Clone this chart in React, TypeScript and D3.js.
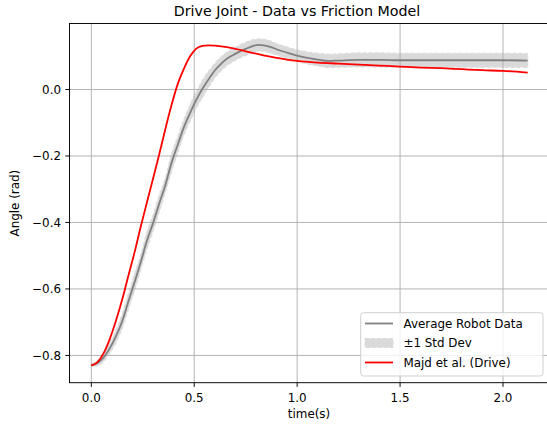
import React from "react";
import * as d3 from "d3";

// red model curve (Majd et al.)
const modelTime = [
  0.0, 0.03, 0.06, 0.09, 0.12, 0.15, 0.18, 0.21, 0.24, 0.27, 0.3, 0.33, 0.36,
  0.39, 0.42, 0.45, 0.48, 0.51, 0.54, 0.57, 0.6, 0.65, 0.7, 0.75, 0.8, 0.85,
  0.9, 0.95, 1.0, 1.1, 1.2, 1.3, 1.4, 1.5, 1.6, 1.7, 1.8, 1.9, 2.0, 2.12,
];
const modelAngle = [
  -0.83, -0.82, -0.793, -0.75, -0.695, -0.632, -0.56, -0.49, -0.413, -0.34,
  -0.268, -0.195, -0.118, -0.046, 0.017, 0.063, 0.1, 0.123, 0.131, 0.133,
  0.132, 0.128, 0.122, 0.115, 0.108, 0.101, 0.095, 0.09, 0.086, 0.081, 0.078,
  0.075, 0.072, 0.069, 0.066, 0.064, 0.061, 0.058, 0.056, 0.051,
];

// averaged robot data + std dev
const dataTime = [
  0.0, 0.03, 0.06, 0.09, 0.12, 0.15, 0.18, 0.21, 0.24, 0.27, 0.3, 0.33, 0.36,
  0.39, 0.42, 0.45, 0.48, 0.51, 0.54, 0.57, 0.6, 0.63, 0.66, 0.69, 0.72, 0.75,
  0.78, 0.81, 0.84, 0.87, 0.9, 0.95, 1.0, 1.05, 1.1, 1.15, 1.2, 1.3, 1.4, 1.5,
  1.6, 1.7, 1.8, 1.9, 2.0, 2.12,
];
const dataMean = [
  -0.83, -0.823, -0.806, -0.778, -0.742, -0.697, -0.638, -0.58, -0.52, -0.455,
  -0.402, -0.343, -0.287, -0.22, -0.166, -0.113, -0.07, -0.031, 0.002, 0.031,
  0.057, 0.077, 0.093, 0.104, 0.114, 0.122, 0.13, 0.134, 0.133, 0.128, 0.121,
  0.111, 0.102, 0.095, 0.09, 0.086, 0.087, 0.089, 0.089, 0.088, 0.088, 0.088,
  0.088, 0.088, 0.088, 0.087,
];
const dataStd = [
  0.004, 0.008, 0.012, 0.015, 0.019, 0.021, 0.023, 0.025, 0.022, 0.026, 0.024,
  0.025, 0.022, 0.026, 0.024, 0.023, 0.025, 0.024, 0.026, 0.024, 0.022, 0.021,
  0.02, 0.02, 0.019, 0.02, 0.019, 0.018, 0.018, 0.018, 0.017, 0.017, 0.017,
  0.018, 0.019, 0.02, 0.02, 0.021, 0.021, 0.021, 0.021, 0.021, 0.021, 0.021,
  0.021, 0.021,
];

const xTicks = [0, 0.5, 1.0, 1.5, 2.0];
const yTicks = [-0.8, -0.6, -0.4, -0.2, 0.0];

const width = 547;
const height = 429;
const font = "DejaVu Sans, sans-serif";

const App = () => {
  const left = 69.5;
  const right = 549.5;
  const top = 23.5;
  const bottom = 382.7;

  const x = d3.scaleLinear().domain([-0.106, 2.226]).range([left, right]);
  const y = d3.scaleLinear().domain([-0.882, 0.1985]).range([bottom, top]);

  const rows = dataTime.map((t, i) => ({ t, m: dataMean[i], s: dataStd[i] }));
  const model = modelTime.map((t, i) => ({ t, v: modelAngle[i] }));

  const band = d3
    .area<any>()
    .x((d) => x(d.t))
    .y0((d) => y(d.m - d.s))
    .y1((d) => y(d.m + d.s))
    .curve(d3.curveMonotoneX)(rows);

  const meanLine = d3
    .line<any>()
    .x((d) => x(d.t))
    .y((d) => y(d.m))
    .curve(d3.curveMonotoneX)(rows);

  const modelLine = d3
    .line<any>()
    .x((d) => x(d.t))
    .y((d) => y(d.v))
    .curve(d3.curveMonotoneX)(model);

  const fmt = (v) => (v < 0 ? "\u2212" : "") + Math.abs(v).toFixed(1);

  // legend
  const lx = 360.7;
  const ly = 312.7;
  const rowY = [323.5, 343, 362.5];

  return (
    <svg
      width={width}
      height={height}
      style={{ position: "absolute", left: 0, top: 0, background: "#fff" }}
      fontFamily={font}
    >
      <defs>
        <clipPath id="plot">
          <rect x={left} y={top} width={right - left} height={bottom - top} />
        </clipPath>
      </defs>

      <text x={297} y={16} textAnchor="middle" fontSize={14.25} fill="#000">
        Drive Joint - Data vs Friction Model
      </text>

      <g clipPath="url(#plot)">
        {/* std band */}
        <path
          d={band}
          fill="#d3d3d3"
          fillOpacity={0.85}
          stroke="#dcdcdc"
          strokeWidth={1.2}
          strokeDasharray="4 2"
        />

        {/* grid */}
        {xTicks.map((t) => (
          <line
            key={"gx" + t}
            x1={x(t)}
            x2={x(t)}
            y1={top}
            y2={bottom}
            stroke="#b0b0b0"
            strokeWidth={0.95}
          />
        ))}
        {yTicks.map((t) => (
          <line
            key={"gy" + t}
            x1={left}
            x2={right}
            y1={y(t)}
            y2={y(t)}
            stroke="#b0b0b0"
            strokeWidth={0.95}
          />
        ))}

        <path d={meanLine} fill="none" stroke="#808080" strokeWidth={1.8} />
        <path d={modelLine} fill="none" stroke="#ff0000" strokeWidth={1.8} />
      </g>

      {/* spines */}
      <rect
        x={left}
        y={top}
        width={right - left}
        height={bottom - top}
        fill="none"
        stroke="#000"
        strokeWidth={0.95}
      />

      {/* x ticks */}
      {xTicks.map((t) => (
        <g key={"xt" + t}>
          <line x1={x(t)} x2={x(t)} y1={bottom} y2={bottom + 4.2} stroke="#000" strokeWidth={0.95} />
          <text x={x(t)} y={402} textAnchor="middle" fontSize={11.9} fill="#000">
            {t.toFixed(1)}
          </text>
        </g>
      ))}
      {/* y ticks */}
      {yTicks.map((t) => (
        <g key={"yt" + t}>
          <line x1={left - 4.2} x2={left} y1={y(t)} y2={y(t)} stroke="#000" strokeWidth={0.95} />
          <text x={61} y={y(t) + 4.2} textAnchor="end" fontSize={11.9} fill="#000">
            {fmt(t)}
          </text>
        </g>
      ))}

      <text x={309} y={418} textAnchor="middle" fontSize={11.9} fill="#000">
        time(s)
      </text>
      <text
        transform={`translate(19, ${(top + bottom) / 2}) rotate(-90)`}
        textAnchor="middle"
        fontSize={11.9}
        fill="#000"
      >
        Angle (rad)
      </text>

      {/* legend */}
      <rect
        x={lx}
        y={ly}
        width={182.3}
        height={63.3}
        rx={3}
        fill="#fff"
        fillOpacity={0.8}
        stroke="#cccccc"
        strokeWidth={0.95}
      />
      <line x1={365} x2={393} y1={rowY[0]} y2={rowY[0]} stroke="#808080" strokeWidth={1.8} />
      <rect
        x={365}
        y={rowY[1] - 4.5}
        width={28}
        height={9}
        fill="#d3d3d3"
        fillOpacity={0.85}
        stroke="#dcdcdc"
        strokeWidth={1.2}
        strokeDasharray="4 2"
      />
      <line x1={365} x2={393} y1={rowY[2]} y2={rowY[2]} stroke="#ff0000" strokeWidth={1.8} />
      {["Average Robot Data", "\u00b11 Std Dev", "Majd et al. (Drive)"].map((s, i) => (
        <text key={s} x={403.5} y={rowY[i] + 4.3} fontSize={11.9} fill="#000">
          {s}
        </text>
      ))}
    </svg>
  );
};

export default App;
